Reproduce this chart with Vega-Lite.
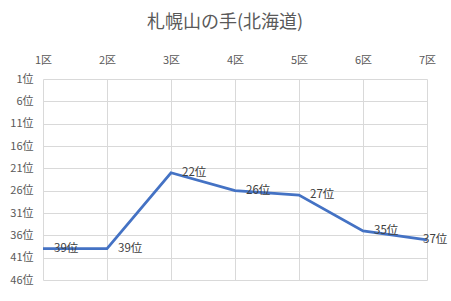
{
  "$schema": "https://vega.github.io/schema/vega-lite/v6.json",
  "width": 384,
  "height": 201,
  "autosize": {"type": "none"},
  "padding": {"left": 43, "top": 79, "right": 24, "bottom": 21},
  "background": "white",
  "title": {
    "text": "札幌山の手(北海道)",
    "font": "Noto Sans CJK JP",
    "fontSize": 18,
    "fontWeight": "normal",
    "color": "#595959",
    "anchor": "middle",
    "dx": -10,
    "offset": 22
  },
  "config": {
    "view": {"stroke": null},
    "font": "Noto Sans CJK JP"
  },
  "data": {
    "values": [
      {"section": "1区", "rank": 39, "label": "39位"},
      {"section": "2区", "rank": 39, "label": "39位"},
      {"section": "3区", "rank": 22, "label": "22位"},
      {"section": "4区", "rank": 26, "label": "26位"},
      {"section": "5区", "rank": 27, "label": "27位"},
      {"section": "6区", "rank": 35, "label": "35位"},
      {"section": "7区", "rank": 37, "label": "37位"}
    ]
  },
  "encoding": {
    "x": {
      "field": "section",
      "type": "ordinal",
      "scale": {"type": "point", "padding": 0},
      "axis": {
        "orient": "top",
        "title": null,
        "labelAngle": 0,
        "domain": false,
        "ticks": false,
        "labelPadding": 14,
        "labelFontSize": 11,
        "labelColor": "#595959",
        "grid": true,
        "gridColor": "#d9d9d9",
        "gridWidth": 1
      }
    },
    "y": {
      "field": "rank",
      "type": "quantitative",
      "scale": {"domain": [1, 46], "reverse": true, "nice": false, "zero": false},
      "axis": {
        "title": null,
        "values": [1, 6, 11, 16, 21, 26, 31, 36, 41, 46],
        "labelExpr": "datum.value + '位'",
        "domain": false,
        "ticks": false,
        "labelPadding": 10,
        "labelFontSize": 11,
        "labelColor": "#595959",
        "grid": true,
        "gridColor": "#d9d9d9",
        "gridWidth": 1
      }
    }
  },
  "layer": [
    {
      "mark": {"type": "line", "color": "#4472C4", "strokeWidth": 2.75}
    },
    {
      "transform": [{"filter": "datum.section != '7区'"}],
      "mark": {"type": "text", "align": "left", "baseline": "middle", "dx": 11, "fontSize": 11.5, "color": "#404040"},
      "encoding": {
        "text": {"field": "label", "type": "nominal"}
      }
    },
    {
      "transform": [{"filter": "datum.section == '7区'"}],
      "mark": {"type": "text", "align": "left", "baseline": "middle", "dx": -4, "fontSize": 11.5, "color": "#404040"},
      "encoding": {
        "text": {"field": "label", "type": "nominal"}
      }
    }
  ]
}
